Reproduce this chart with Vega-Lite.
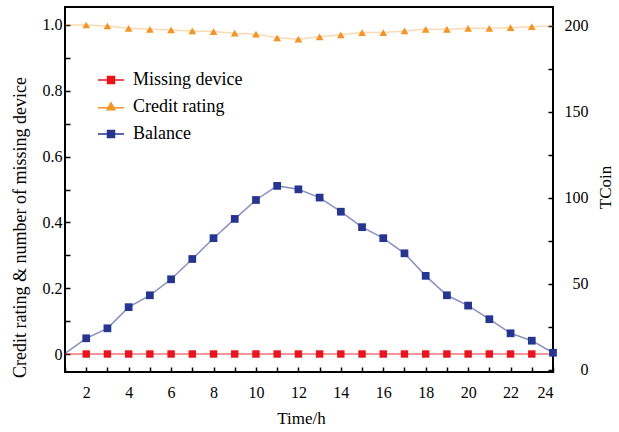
{
  "$schema": "https://vega.github.io/schema/vega-lite/v6.json",
  "width": 488,
  "height": 365,
  "autosize": {"type": "none"},
  "padding": {"left": 65, "top": 7, "right": 66, "bottom": 60},
  "background": "white",
  "config": {
    "view": {"stroke": "black", "strokeWidth": 2},
    "font": "Liberation Serif",
    "axis": {
      "grid": false,
      "domain": false,
      "tickColor": "black",
      "tickSize": -5,
      "tickWidth": 1.5,
      "labelColor": "black",
      "titleColor": "black",
      "labelFont": "Liberation Serif",
      "titleFont": "Liberation Serif",
      "labelFontSize": 16,
      "titleFontSize": 17,
      "titleFontWeight": "normal"
    }
  },
  "data": {
    "values": [
      {"t": 1, "series": "Missing device", "v": 0}, {"t": 1, "series": "Credit rating", "v": 1.0}, {"t": 1, "series": "Balance", "v": 9.6},
      {"t": 2, "series": "Missing device", "v": 0}, {"t": 2, "series": "Credit rating", "v": 1.0}, {"t": 2, "series": "Balance", "v": 18.4},
      {"t": 3, "series": "Missing device", "v": 0}, {"t": 3, "series": "Credit rating", "v": 0.997}, {"t": 3, "series": "Balance", "v": 24.2},
      {"t": 4, "series": "Missing device", "v": 0}, {"t": 4, "series": "Credit rating", "v": 0.99}, {"t": 4, "series": "Balance", "v": 36.5},
      {"t": 5, "series": "Missing device", "v": 0}, {"t": 5, "series": "Credit rating", "v": 0.987}, {"t": 5, "series": "Balance", "v": 43.4},
      {"t": 6, "series": "Missing device", "v": 0}, {"t": 6, "series": "Credit rating", "v": 0.985}, {"t": 6, "series": "Balance", "v": 52.7},
      {"t": 7, "series": "Missing device", "v": 0}, {"t": 7, "series": "Credit rating", "v": 0.982}, {"t": 7, "series": "Balance", "v": 64.5},
      {"t": 8, "series": "Missing device", "v": 0}, {"t": 8, "series": "Credit rating", "v": 0.98}, {"t": 8, "series": "Balance", "v": 76.6},
      {"t": 9, "series": "Missing device", "v": 0}, {"t": 9, "series": "Credit rating", "v": 0.975}, {"t": 9, "series": "Balance", "v": 87.8},
      {"t": 10, "series": "Missing device", "v": 0}, {"t": 10, "series": "Credit rating", "v": 0.972}, {"t": 10, "series": "Balance", "v": 98.8},
      {"t": 11, "series": "Missing device", "v": 0}, {"t": 11, "series": "Credit rating", "v": 0.961}, {"t": 11, "series": "Balance", "v": 107},
      {"t": 12, "series": "Missing device", "v": 0}, {"t": 12, "series": "Credit rating", "v": 0.957}, {"t": 12, "series": "Balance", "v": 105},
      {"t": 13, "series": "Missing device", "v": 0}, {"t": 13, "series": "Credit rating", "v": 0.964}, {"t": 13, "series": "Balance", "v": 100.2},
      {"t": 14, "series": "Missing device", "v": 0}, {"t": 14, "series": "Credit rating", "v": 0.97}, {"t": 14, "series": "Balance", "v": 92},
      {"t": 15, "series": "Missing device", "v": 0}, {"t": 15, "series": "Credit rating", "v": 0.977}, {"t": 15, "series": "Balance", "v": 83},
      {"t": 16, "series": "Missing device", "v": 0}, {"t": 16, "series": "Credit rating", "v": 0.977}, {"t": 16, "series": "Balance", "v": 76.6},
      {"t": 17, "series": "Missing device", "v": 0}, {"t": 17, "series": "Credit rating", "v": 0.982}, {"t": 17, "series": "Balance", "v": 67.8},
      {"t": 18, "series": "Missing device", "v": 0}, {"t": 18, "series": "Credit rating", "v": 0.987}, {"t": 18, "series": "Balance", "v": 54.7},
      {"t": 19, "series": "Missing device", "v": 0}, {"t": 19, "series": "Credit rating", "v": 0.987}, {"t": 19, "series": "Balance", "v": 43.4},
      {"t": 20, "series": "Missing device", "v": 0}, {"t": 20, "series": "Credit rating", "v": 0.99}, {"t": 20, "series": "Balance", "v": 37.4},
      {"t": 21, "series": "Missing device", "v": 0}, {"t": 21, "series": "Credit rating", "v": 0.99}, {"t": 21, "series": "Balance", "v": 29.5},
      {"t": 22, "series": "Missing device", "v": 0}, {"t": 22, "series": "Credit rating", "v": 0.992}, {"t": 22, "series": "Balance", "v": 21.3},
      {"t": 23, "series": "Missing device", "v": 0}, {"t": 23, "series": "Credit rating", "v": 0.995}, {"t": 23, "series": "Balance", "v": 17},
      {"t": 24, "series": "Missing device", "v": 0}, {"t": 24, "series": "Credit rating", "v": 0.997}, {"t": 24, "series": "Balance", "v": 10}
    ]
  },
  "encoding": {
    "x": {
      "field": "t",
      "type": "quantitative",
      "scale": {"domain": [1, 24], "nice": false, "zero": false},
      "axis": {
        "values": [1,2,3,4,5,6,7,8,9,10,11,12,13,14,15,16,17,18,19,20,21,22,23,24],
        "labelExpr": "datum.value % 2 == 0 ? datum.label : ''",
        "labelPadding": 17,
        "title": "Time/h",
        "titleX": 236,
        "titleY": 46,
        "titleBaseline": "middle"
      }
    },
    "color": {
      "field": "series",
      "type": "nominal",
      "scale": {
        "domain": ["Missing device", "Credit rating", "Balance"],
        "range": ["#e8141e", "#f39424", "#26358f"]
      },
      "legend": {
        "orient": "none",
        "legendX": 32,
        "legendY": 59,
        "title": null,
        "padding": 0,
        "rowPadding": 4,
        "labelFont": "Liberation Serif",
        "labelFontSize": 18,
        "labelColor": "black",
        "labelOffset": 8,
        "symbolSize": 676,
        "symbolStrokeWidth": 1.5,
        "symbolOpacity": 1,
        "encode": {
          "symbols": {
            "update": {
              "shape": {"signal": "datum.value == 'Credit rating' ? 'M-1,0.05H1M0,-0.32L0.3,0.22H-0.3Z' : 'M-1,0H1M-0.27,-0.27H0.27V0.27H-0.27Z'"}
            }
          }
        }
      }
    }
  },
  "layer": [
    {
      "transform": [{"filter": "datum.series != 'Balance'"}],
      "encoding": {
        "y": {
          "field": "v",
          "type": "quantitative",
          "scale": {"domain": [-0.0547, 1.0547], "nice": false, "zero": false},
          "axis": {
            "orient": "left",
            "values": [0, 0.1, 0.2, 0.3, 0.4, 0.5, 0.6, 0.7, 0.8, 0.9, 1.0],
            "labelExpr": "datum.value == 0 ? '0' : (round(datum.value * 10) % 2 == 0 ? format(datum.value, '.1f') : '')",
            "labelPadding": 8,
            "title": "Credit rating & number of missing device",
            "titleFontSize": 18,
            "titleX": -45,
            "titleY": 220,
            "titleBaseline": "middle"
          }
        }
      },
      "layer": [
        {
          "transform": [{"filter": "datum.series == 'Missing device'"}],
          "mark": {"type": "line", "strokeWidth": 1.5, "opacity": 0.6}
        },
        {
          "transform": [{"filter": "datum.series == 'Credit rating'"}],
          "mark": {"type": "line", "strokeWidth": 1.5, "opacity": 0.35}
        },
        {
          "transform": [{"filter": "datum.series == 'Missing device' && datum.t > 1 && datum.t < 24"}],
          "mark": {"type": "point", "filled": true, "opacity": 1, "size": 55, "shape": "square"}
        },
        {
          "transform": [{"filter": "datum.series == 'Credit rating' && datum.t > 1 && datum.t < 24"}],
          "mark": {"type": "point", "filled": true, "opacity": 1, "size": 60, "shape": "triangle-up"}
        }
      ]
    },
    {
      "transform": [{"filter": "datum.series == 'Balance'"}],
      "encoding": {
        "y": {
          "field": "v",
          "type": "quantitative",
          "scale": {"domain": [-1.2, 211], "nice": false, "zero": false},
          "axis": {
            "orient": "right",
            "values": [0, 25, 50, 75, 100, 125, 150, 175, 200],
            "labelExpr": "datum.value % 50 == 0 ? datum.label : ''",
            "labelAlign": "right",
            "labelPadding": 40,
            "title": "TCoin",
            "titleAngle": 270,
            "titleX": 52,
            "titleY": 180,
            "titleBaseline": "middle"
          }
        }
      },
      "layer": [
        {"mark": {"type": "line", "strokeWidth": 1.5, "opacity": 0.55}},
        {
          "transform": [{"filter": "datum.t > 1"}],
          "mark": {"type": "point", "filled": true, "opacity": 1, "size": 60, "shape": "square"}
        }
      ]
    }
  ],
  "resolve": {"scale": {"y": "independent"}}
}
